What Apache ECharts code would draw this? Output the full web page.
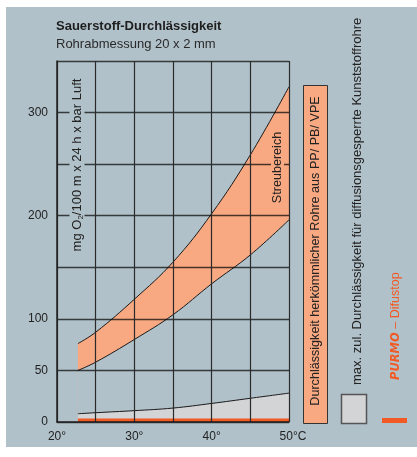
<!DOCTYPE html>
<html><head><meta charset="utf-8">
<script src="https://cdn.jsdelivr.net/npm/echarts@6/dist/echarts.min.js"></script>
<style>html,body{margin:0;padding:0;background:#fff}#c{width:417px;height:457px}</style>
</head><body><div id="c"></div>
<script>
// Temperatures (°C) at which values were read
const temps = [22.7, 25, 30, 35, 40, 45, 50];
// Scatter range (Streubereich) of conventional PP/PB/VPE pipes, mg O2/100 m x 24 h x bar
const lowerBound = [50, 58, 80, 104, 134, 162, 196];
const upperBound = [76, 87, 119, 155, 202, 259, 325];
// max. permitted permeability for diffusion-tight plastic pipes
const maxZul = [8, 9, 11, 13.5, 18, 23, 28];
// PURMO Difustop
const difustop = [3.5, 3.5, 3.5, 3.5, 3.5, 3.5, 3.5];
// tick labels
const yTickLabels = [0, 50, 100, 200, 300];
const xTickLabels = [20, 30, 40, 50];

const FONT = 'Liberation Sans, Arial, sans-serif';
const BG = '#b1c1c9';
const ORANGE = '#f8a982';
const GRAY = '#d3d4d6';
const RED = '#f15a24';

const pairs = arr => temps.map((t, i) => [t, arr[i]]);

const chart = echarts.init(document.getElementById('c'), null, {renderer: 'canvas'});
chart.setOption({
  backgroundColor: '#ffffff',
  animation: false,
  textStyle: {fontFamily: FONT},
  title: {
    text: 'Sauerstoff-Durchlässigkeit',
    subtext: 'Rohrabmessung 20 x 2 mm',
    left: 56, top: 20, padding: 0, itemGap: 5,
    textStyle: {fontFamily: FONT, fontSize: 13, fontWeight: 'bold', color: '#1e1e1e'},
    subtextStyle: {fontFamily: FONT, fontSize: 13, color: '#2a2a2a'}
  },
  grid: {left: 57, right: 128, top: 61, bottom: 35, containLabel: false},
  xAxis: {
    type: 'value', min: 20, max: 50, interval: 5, z: 10,
    axisLine: {show: true, lineStyle: {color: '#222', width: 1.5}},
    axisTick: {show: false},
    splitLine: {show: true, lineStyle: {color: '#2a2a2a', width: 1.2}},
    axisLabel: {
      margin: 9, fontSize: 12, color: '#222', fontFamily: FONT,
      formatter: v => xTickLabels.includes(v) ? (v === 50 ? '{c|50°C}' : v + '°') : '',
      rich: {c: {fontSize: 12, color: '#222', fontFamily: FONT, padding: [0, 0, 0, 8]}}
    }
  },
  yAxis: {
    type: 'value', min: 0, max: 350, interval: 50, z: 10,
    axisLine: {show: true, lineStyle: {color: '#222', width: 1.5}},
    axisTick: {show: false},
    splitLine: {show: true, lineStyle: {color: 'rgba(0,0,0,0.7)', width: 1.3}},
    axisLabel: {
      margin: 9, fontSize: 12, color: '#222', fontFamily: FONT,
      formatter: v => yTickLabels.includes(v) ? String(v) : ''
    }
  },
  series: [
    {
      name: 'Streubereich', type: 'line', data: pairs(upperBound), smooth: 0.4, symbol: 'none', z: 1,
      lineStyle: {color: '#1a1a1a', width: 1}, areaStyle: {color: ORANGE, opacity: 1}
    },
    {
      name: 'lower', type: 'line', data: pairs(lowerBound), smooth: 0.4, symbol: 'none', z: 2,
      lineStyle: {color: '#1a1a1a', width: 1}, areaStyle: {color: BG, opacity: 1}
    },
    {
      name: 'max. zul.', type: 'line', data: pairs(maxZul), smooth: 0.4, symbol: 'none', z: 3,
      lineStyle: {color: '#1a1a1a', width: 1}, areaStyle: {color: GRAY, opacity: 1}
    },
    {
      name: 'Difustop', type: 'line', data: pairs(difustop), symbol: 'none', z: 4,
      lineStyle: {width: 0}, areaStyle: {color: RED, opacity: 1}
    }
  ],
  graphic: [
    {type: 'rect', z: -100, silent: true, shape: {x: 6, y: 7, width: 411, height: 440}, style: {fill: BG}},
    {type: 'text', z: 100, x: 77, y: 165, rotation: Math.PI / 2,
      style: {text: 'mg O{s|2}/100 m x 24 h x bar Luft', fontSize: 13, fontFamily: FONT, fill: '#222',
        align: 'center', verticalAlign: 'middle', backgroundColor: BG, padding: [0, 2],
        rich: {s: {fontSize: 8, fontFamily: FONT, fill: '#222', padding: [7, 0, 0, 0]}}}},
    {type: 'text', z: 100, x: 277.5, y: 167.5, rotation: Math.PI / 2,
      style: {text: 'Streubereich', fontSize: 12.6, fontFamily: FONT, fill: '#222',
        align: 'center', verticalAlign: 'middle', backgroundColor: ORANGE, padding: [0, 2]}},
    {type: 'rect', z: 100, shape: {x: 303.5, y: 85.5, width: 24, height: 338},
      style: {fill: ORANGE, stroke: '#333', lineWidth: 1}},
    {type: 'text', z: 101, x: 316, y: 251, rotation: Math.PI / 2,
      style: {text: 'Durchlässigkeit herkömmlicher Rohre aus PP/ PB/ VPE', fontSize: 12.6, fontFamily: FONT,
        fill: '#222', align: 'center', verticalAlign: 'middle'}},
    {type: 'rect', z: 100, shape: {x: 341.5, y: 394.5, width: 25, height: 29},
      style: {fill: GRAY, stroke: '#555', lineWidth: 1.5}},
    {type: 'text', z: 101, x: 357.5, y: 385, rotation: Math.PI / 2,
      style: {text: 'max. zul. Durchlässigkeit für diffusionsgesperrte Kunststoffrohre', fontSize: 13, fontFamily: FONT,
        fill: '#222', align: 'left', verticalAlign: 'middle'}},
    {type: 'rect', z: 100, shape: {x: 382, y: 418, width: 25, height: 5}, style: {fill: RED}},
    {type: 'text', z: 101, x: 396, y: 380, rotation: Math.PI / 2,
      style: {text: '{b|PURMO} – Difustop', fontSize: 12.5, fontFamily: FONT, fill: RED,
        align: 'left', verticalAlign: 'middle',
        rich: {b: {fontSize: 11.5, fontFamily: 'DejaVu Sans', fontWeight: 'bold', fontStyle: 'italic', fill: RED}}}}
  ]
});
</script></body></html>
